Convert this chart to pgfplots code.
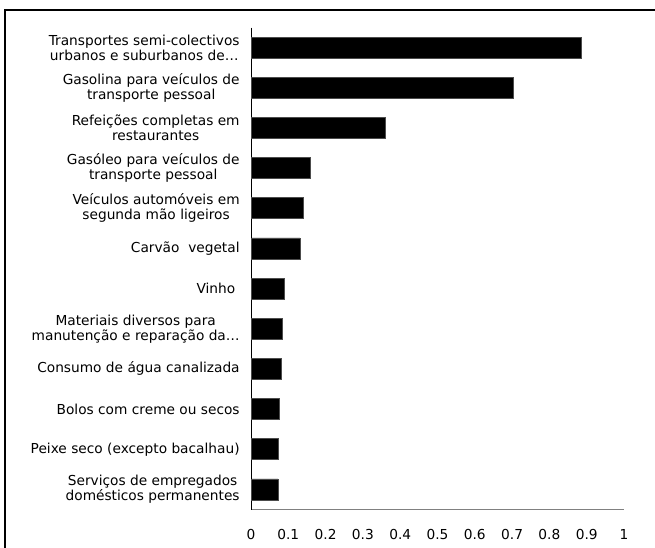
\documentclass[border=0pt]{standalone}
\usepackage{pgfplots}
\pgfplotsset{compat=1.18}
\usepackage{fontspec}
\setmainfont{DejaVu Sans}

\begin{document}
\begin{tikzpicture}[x=0.75pt,y=0.75pt]
% picture size 655 x 547 px, axis origin at (251,509.5)
\useasboundingbox (-251,-37.5) rectangle (404,509.5);
% frame (cut at right and bottom)
\draw[line width=1.5pt] (-246,-40) -- (-246,499.5) -- (410,499.5);

\begin{axis}[
    xbar,
    scale only axis,
    width=279.75pt,
    height=361.5pt,
    bar width=15.75pt,
    xmin=0, xmax=1,
    ymin=-0.5, ymax=11.5,
    y dir=reverse,
    xtick={0,0.1,0.2,0.3,0.4,0.5,0.6,0.7,0.8,0.9,1},
    ytick={0,1,2,3,4,5,6,7,8,9,10,11},
    yticklabels={
        {Transportes semi-colectivos\\urbanos e suburbanos de…},
        {Gasolina para veículos de\\transporte pessoal},
        {Refeições completas em\\restaurantes},
        {Gasóleo para veículos de\\transporte pessoal},
        {Veículos automóveis em\\segunda mão ligeiros},
        {Carvão\ \ vegetal},
        {Vinho\ },
        {Materiais diversos para\\manutenção e reparação da…},
        {Consumo de água canalizada},
        {Bolos com creme ou secos},
        {Peixe seco (excepto bacalhau)},
        {Serviços de empregados\\domésticos permanentes}
    },
    major tick length=0pt,
    axis lines*=left,
    x axis line style={draw=black!50, line width=1.1pt},
    y axis line style={draw=black, line width=0.7pt},
    yticklabel style={align=center, font=\fontsize{10.3}{11.3}\selectfont, xshift=-5pt},
    xticklabel style={font=\fontsize{10.3}{11.3}\selectfont, yshift=-11.5pt},
    /pgf/number format/assume math mode=true,
    clip=false,
]
\addplot[fill=black, draw=black!70] coordinates {
    (0.885,0) (0.703,1) (0.360,2) (0.158,3) (0.139,4) (0.131,5)
    (0.089,6) (0.084,7) (0.080,8) (0.075,9) (0.073,10) (0.072,11)
};
\end{axis}
\end{tikzpicture}
\end{document}
